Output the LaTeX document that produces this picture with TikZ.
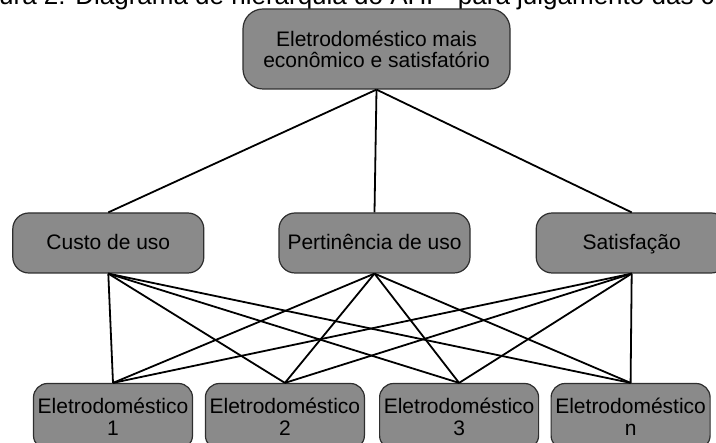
\documentclass[tikz,border=0pt]{standalone}
\usepackage{xcolor}
\usepackage{fontspec}
\setmainfont{Liberation Sans}
\usepackage{tikz}
\usetikzlibrary{positioning}

\definecolor{boxfill}{HTML}{8A8A8A}
\definecolor{boxline}{HTML}{2E2E2E}

\begin{document}
\begin{tikzpicture}[
		x=1pt,
		y=1pt,
		font=\fontsize{21pt}{21pt}\selectfont,
	]
		\tikzset{goal/.style={
			draw=boxline,
			fill=boxfill,
			line width=1.2,
			rounded corners=20,
			minimum width=267,
			minimum height=80,
			align=center,
		}}
		\tikzset{criterion/.style={
			draw=boxline,
			fill=boxfill,
			line width=1.2,
			rounded corners=16,
			minimum width=191,
			minimum height=60,
			text height=16,
			text depth=2,
			align=center,
		}}
		\tikzset{option/.style={
			draw=boxline,
			fill=boxfill,
			line width=1.2,
			rounded corners=14,
			minimum width=159,
			minimum height=66,
			inner xsep=2,
			align=center,
			font=\fontsize{21pt}{22pt}\selectfont,
		}}
		\tikzset{link/.style={
			line width=1.8,
		}}

		\useasboundingbox (0,0) rectangle (716,-443);
		\clip (0,0) rectangle (716,-443);

		%---------------------------------
		% Title
		\node[
			anchor=base west,
			inner sep=0,
			font=\fontsize{26pt}{26pt}\selectfont,
		] (title) at (-1,-5) {ura 2: Diagrama de hierarquia do AHP\hspace{7pt} para julgamento das c};

		%---------------------------------
		% Goal
		\node[goal] (goal) at (376.5,-49) {Eletrodoméstico mais\\econômico e satisfatório};

		%---------------------------------
		% Criteria
		\node[criterion] (custo) at (108.3,-243) {Custo de uso};
		\node[
			criterion,
			right=74 of custo,
		] (pertinencia) {Pertinência de uso};
		\node[
			criterion,
			right=65 of pertinencia,
		] (satisfacao) {Satisfação};

		\draw[link] (goal.south) -- (custo.north);
		\draw[link] (goal.south) -- (pertinencia.north);
		\draw[link] (goal.south) -- (satisfacao.north);

		%---------------------------------
		% Alternatives
		\node[option] (eletro1) at (113,-416.5) {Eletrodoméstico\\1};
		\node[
			option,
			right=11.7 of eletro1,
		] (eletro2) {Eletrodoméstico\\2};
		\node[
			option,
			right=14 of eletro2,
		] (eletro3) {Eletrodoméstico\\3};
		\node[
			option,
			right=11.3 of eletro3,
		] (eletron) {Eletrodoméstico\\n};

		\draw[link] (custo.south) -- (eletro1.north);
		\draw[link] (custo.south) -- (eletro2.north);
		\draw[link] (custo.south) -- (eletro3.north);
		\draw[link] (custo.south) -- (eletron.north);

		\draw[link] (pertinencia.south) -- (eletro1.north);
		\draw[link] (pertinencia.south) -- (eletro2.north);
		\draw[link] (pertinencia.south) -- (eletro3.north);
		\draw[link] (pertinencia.south) -- (eletron.north);

		\draw[link] (satisfacao.south) -- (eletro1.north);
		\draw[link] (satisfacao.south) -- (eletro2.north);
		\draw[link] (satisfacao.south) -- (eletro3.north);
		\draw[link] (satisfacao.south) -- (eletron.north);
	\end{tikzpicture}
\end{document}
